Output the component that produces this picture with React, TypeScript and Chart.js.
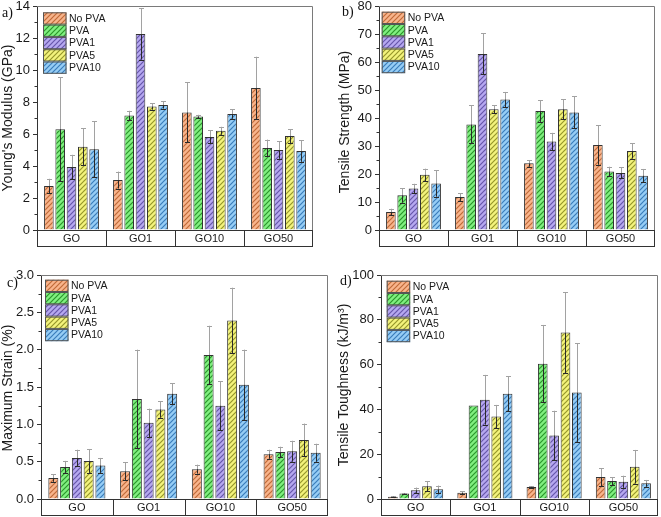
import React, { useEffect, useRef } from "react";
import { Chart, registerables } from "chart.js";
Chart.register(...registerables);

const categories = ["GO", "GO1", "GO10", "GO50"];
const seriesNames = ["No PVA", "PVA", "PVA1", "PVA5", "PVA10"];

// rows = series (No PVA, PVA, PVA1, PVA5, PVA10), columns = categories
const modulusMean = [
  [2.75, 3.12, 7.35, 8.88],
  [6.3, 7.15, 7.1, 5.13],
  [3.93, 12.25, 5.82, 5.0],
  [5.2, 7.72, 6.2, 5.87],
  [5.05, 7.82, 7.25, 4.93],
];
const modulusErr = [
  [0.45, 0.53, 1.87, 1.95],
  [3.25, 0.3, 0.1, 0.52],
  [0.77, 1.6, 0.4, 0.55],
  [1.15, 0.2, 0.25, 0.43],
  [1.75, 0.23, 0.3, 0.67],
];
const strengthMean = [
  [6.4, 11.8, 23.8, 30.4],
  [12.4, 37.7, 42.5, 20.9],
  [14.8, 62.9, 31.6, 20.4],
  [19.7, 43.1, 43.1, 28.2],
  [16.6, 46.6, 42.0, 19.4],
];
const strengthErr = [
  [1.2, 1.4, 1.2, 7.1],
  [2.6, 6.8, 3.9, 1.7],
  [1.7, 7.3, 3.1, 2.0],
  [2.2, 1.4, 3.6, 2.7],
  [4.7, 2.7, 5.7, 2.4],
];
const strainMean = [
  [0.28, 0.37, 0.4, 0.6],
  [0.43, 1.34, 1.93, 0.63],
  [0.55, 1.02, 1.25, 0.64],
  [0.51, 1.2, 2.39, 0.79],
  [0.45, 1.41, 1.53, 0.62],
];
const strainErr = [
  [0.05, 0.12, 0.06, 0.06],
  [0.08, 0.66, 0.39, 0.07],
  [0.11, 0.19, 0.33, 0.14],
  [0.16, 0.11, 0.44, 0.22],
  [0.1, 0.14, 0.47, 0.12],
];
const toughMean = [
  [1.0, 2.8, 5.4, 9.8],
  [2.4, 41.7, 60.4, 8.0],
  [3.9, 44.3, 28.4, 7.7],
  [5.7, 36.8, 74.3, 14.4],
  [4.3, 47.0, 47.5, 7.0],
];
const toughErr = [
  [0.2, 0.6, 0.4, 4.0],
  [0.3, 0.0, 17.3, 1.8],
  [1.2, 11.1, 11.0, 2.7],
  [2.2, 5.2, 18.1, 7.5],
  [1.7, 7.9, 22.0, 1.5],
];

const baseColors = ["#f8b48c", "#80ef80", "#b6a8f0", "#f3f37c", "#96cdf5"];
const stripeColors = ["#c06a38", "#2a962a", "#6656aa", "#96962a", "#3a7cba"];

const NARROW = "'Liberation Sans Narrow', 'Liberation Sans', Arial, sans-serif";
const SANS = "'Liberation Sans', Arial, sans-serif";
const SERIF = "'Liberation Serif', 'Times New Roman', serif";

type PanelDef = {
  left: number; top: number; w: number; h: number;
  area: { l: number; r: number; t: number; b: number };
  max: number; step: number; minor: number; dec: number;
  title: string; titleX: number; titleY: number;
  label: string; labelX: number; labelY: number;
  legX: number; legY: number;
  means: number[][]; errs: number[][];
};

const panels: PanelDef[] = [
  { left: 0, top: 0, w: 330, h: 258, area: { l: 37, r: 313, t: 6, b: 230 }, max: 14, step: 2, minor: 1, dec: 0,
    title: "Young's Modulus (GPa)", titleX: 8.5, titleY: 118, label: "a)", labelX: 2, labelY: 17,
    legX: 43, legY: 12.3, means: modulusMean, errs: modulusErr },
  { left: 330, top: 0, w: 331, h: 258, area: { l: 49, r: 325, t: 6, b: 230 }, max: 80, step: 10, minor: 5, dec: 0,
    title: "Tensile Strength (MPa)", titleX: 15.5, titleY: 122, label: "b)", labelX: 12, labelY: 16,
    legX: 51.7, legY: 11.7, means: strengthMean, errs: strengthErr },
  { left: 0, top: 258, w: 330, h: 259, area: { l: 41, r: 328, t: 17, b: 241 }, max: 3, step: 0.5, minor: 0.25, dec: 1,
    title: "Maximum Strain (%)", titleX: 8, titleY: 130, label: "c)", labelX: 7, labelY: 29,
    legX: 45, legY: 21.7, means: strainMean, errs: strainErr },
  { left: 330, top: 258, w: 331, h: 259, area: { l: 51, r: 328, t: 17, b: 241 }, max: 100, step: 20, minor: 10, dec: 0,
    title: "Tensile Toughness (kJ/m³)", titleX: 14.5, titleY: 127, label: "d)", labelX: 10, labelY: 27,
    legX: 56.7, legY: 22.7, means: toughMean, errs: toughErr },
];

function makePattern(base: string, stripe: string): CanvasPattern | string {
  const s = 5;
  const c = document.createElement("canvas");
  c.width = s; c.height = s;
  const g = c.getContext("2d");
  if (!g) return base;
  g.fillStyle = base; g.fillRect(0, 0, s, s);
  g.strokeStyle = stripe; g.lineWidth = 1.2;
  g.beginPath();
  g.moveTo(0, s); g.lineTo(s, 0);
  g.moveTo(-1, 1); g.lineTo(1, -1);
  g.moveTo(s - 1, s + 1); g.lineTo(s + 1, s - 1);
  g.stroke();
  return g.createPattern(c, "repeat") || base;
}

function Panel({ p }: { p: PanelDef }) {
  const ref = useRef<HTMLCanvasElement | null>(null);
  useEffect(() => {
    const canvas = ref.current;
    if (!canvas) return;
    const patterns = baseColors.map((b, i) => makePattern(b, stripeColors[i]));
    const boxH = 16;
    const deco = {
      id: "deco",
      afterDatasetsDraw(chart: any) {
        const ctx = chart.ctx;
        const ys = chart.scales.y;
        ctx.save();
        chart.data.datasets.forEach((ds: any, i: number) => {
          const meta = chart.getDatasetMeta(i);
          meta.data.forEach((bar: any, j: number) => {
            const v = ds.data[j];
            const e = p.errs[i][j];
            if (!e) return;
            const x = Math.round(bar.x) + 0.5;
            const yv = ys.getPixelForValue(v);
            const yh = ys.getPixelForValue(v + e);
            const yl = ys.getPixelForValue(v - e);
            ctx.lineWidth = 1;
            ctx.strokeStyle = "#a2a2a2";
            ctx.beginPath();
            ctx.moveTo(x, yv); ctx.lineTo(x, yh);
            ctx.moveTo(x - 2.5, Math.round(yh) + 0.5); ctx.lineTo(x + 2.5, Math.round(yh) + 0.5);
            ctx.stroke();
            ctx.strokeStyle = "#2a2a2a";
            ctx.beginPath();
            ctx.moveTo(x, yv); ctx.lineTo(x, yl);
            ctx.moveTo(x - 2.5, Math.round(yl) + 0.5); ctx.lineTo(x + 2.5, Math.round(yl) + 0.5);
            ctx.stroke();
          });
        });
        ctx.restore();
      },
      afterDraw(chart: any) {
        const ctx = chart.ctx;
        const a = chart.chartArea;
        const ys = chart.scales.y;
        ctx.save();
        // frame
        ctx.strokeStyle = "#7a7a7a";
        ctx.lineWidth = 1;
        ctx.beginPath();
        ctx.moveTo(a.left, a.top + 0.5); ctx.lineTo(a.right - 0.5, a.top + 0.5); ctx.lineTo(a.right - 0.5, a.bottom);
        ctx.stroke();
        // category box
        ctx.strokeStyle = "#333";
        ctx.beginPath();
        ctx.moveTo(a.left, Math.round(a.bottom) + 0.5); ctx.lineTo(a.right, Math.round(a.bottom) + 0.5);
        ctx.moveTo(a.left, Math.round(a.bottom + boxH) + 0.5); ctx.lineTo(a.right, Math.round(a.bottom + boxH) + 0.5);
        const cw = (a.right - a.left) / categories.length;
        for (let k = 0; k <= categories.length; k++) {
          let x = Math.round(a.left + k * cw) + 0.5;
          if (k === categories.length) x = Math.round(a.right) - 0.5;
          ctx.moveTo(x, a.bottom); ctx.lineTo(x, a.bottom + boxH + 0.5);
        }
        ctx.stroke();
        // minor ticks
        ctx.beginPath();
        for (let v = p.minor; v < p.max; v += p.step) {
          const y = Math.round(ys.getPixelForValue(v)) + 0.5;
          ctx.moveTo(a.left - 2.5, y); ctx.lineTo(a.left, y);
        }
        ctx.stroke();
        // legend
        const sh = 12.3, sw = 23.5;
        ctx.font = `10.5px ${SANS}`;
        ctx.textBaseline = "middle";
        ctx.textAlign = "left";
        seriesNames.forEach((name, i) => {
          const y = p.legY + i * sh;
          ctx.fillStyle = patterns[i] as any;
          ctx.fillRect(p.legX, y, sw, sh);
          ctx.strokeStyle = "#555";
          ctx.strokeRect(p.legX + 0.5, y + 0.5, sw - 1, sh - 1);
          ctx.fillStyle = "#1a1a1a";
          ctx.fillText(name, p.legX + sw + 2.5, y + sh / 2 + 0.5);
        });
        // y title
        ctx.save();
        ctx.translate(p.titleX, p.titleY);
        ctx.rotate(-Math.PI / 2);
        ctx.font = `14px ${SANS}`;
        ctx.textAlign = "center";
        ctx.textBaseline = "middle";
        ctx.fillStyle = "#1a1a1a";
        ctx.fillText(p.title, 0, 0);
        ctx.restore();
        // panel label
        ctx.font = `14px ${SERIF}`;
        ctx.textAlign = "left";
        ctx.textBaseline = "alphabetic";
        ctx.fillStyle = "#111";
        ctx.fillText(p.label, p.labelX, p.labelY);
        ctx.restore();
      },
    };

    const chart = new Chart(canvas, {
      type: "bar",
      data: {
        labels: categories,
        datasets: seriesNames.map((name, i) => ({
          label: name,
          data: p.means[i],
          backgroundColor: patterns[i] as any,
          borderColor: "#333",
          borderWidth: 1,
          categoryPercentage: 0.82,
          barPercentage: 0.85,
        })),
      },
      options: {
        responsive: false,
        animation: false,
        devicePixelRatio: 1,
        layout: {
          padding: { left: 0, right: p.w - p.area.r, top: p.area.t, bottom: p.h - p.area.b - boxH },
        },
        plugins: { legend: { display: false }, tooltip: { enabled: false } },
        scales: {
          x: {
            type: "category",
            grid: { display: false, drawTicks: false },
            border: { display: false },
            ticks: { font: { family: NARROW, size: 11 }, color: "#1a1a1a", padding: 2.5, maxRotation: 0, autoSkip: false },
            afterFit: (s: any) => { s.height = boxH; s.paddingLeft = 0; s.paddingRight = 0; },
          },
          y: {
            min: 0,
            max: p.max,
            grid: { display: true, drawOnChartArea: false, drawTicks: true, tickLength: 4, color: "#333" },
            border: { display: true, color: "#333", width: 1 },
            ticks: {
              stepSize: p.step,
              font: { family: NARROW, size: 13 },
              color: "#1a1a1a",
              padding: 3,
              callback: (v: any) => Number(v).toFixed(p.dec),
            },
            afterFit: (s: any) => { s.width = p.area.l; s.paddingTop = 0; s.paddingBottom = 0; },
          },
        },
      },
      plugins: [deco],
    } as any);
    return () => chart.destroy();
  }, [p]);
  return (
    <canvas
      ref={ref}
      width={p.w}
      height={p.h}
      style={{ position: "absolute", left: p.left, top: p.top, width: p.w, height: p.h }}
    />
  );
}

export default function App() {
  return (
    <div style={{ position: "absolute", left: 0, top: 0, width: 661, height: 517, background: "#fff" }}>
      {panels.map((p, i) => (
        <Panel key={i} p={p} />
      ))}
    </div>
  );
}
